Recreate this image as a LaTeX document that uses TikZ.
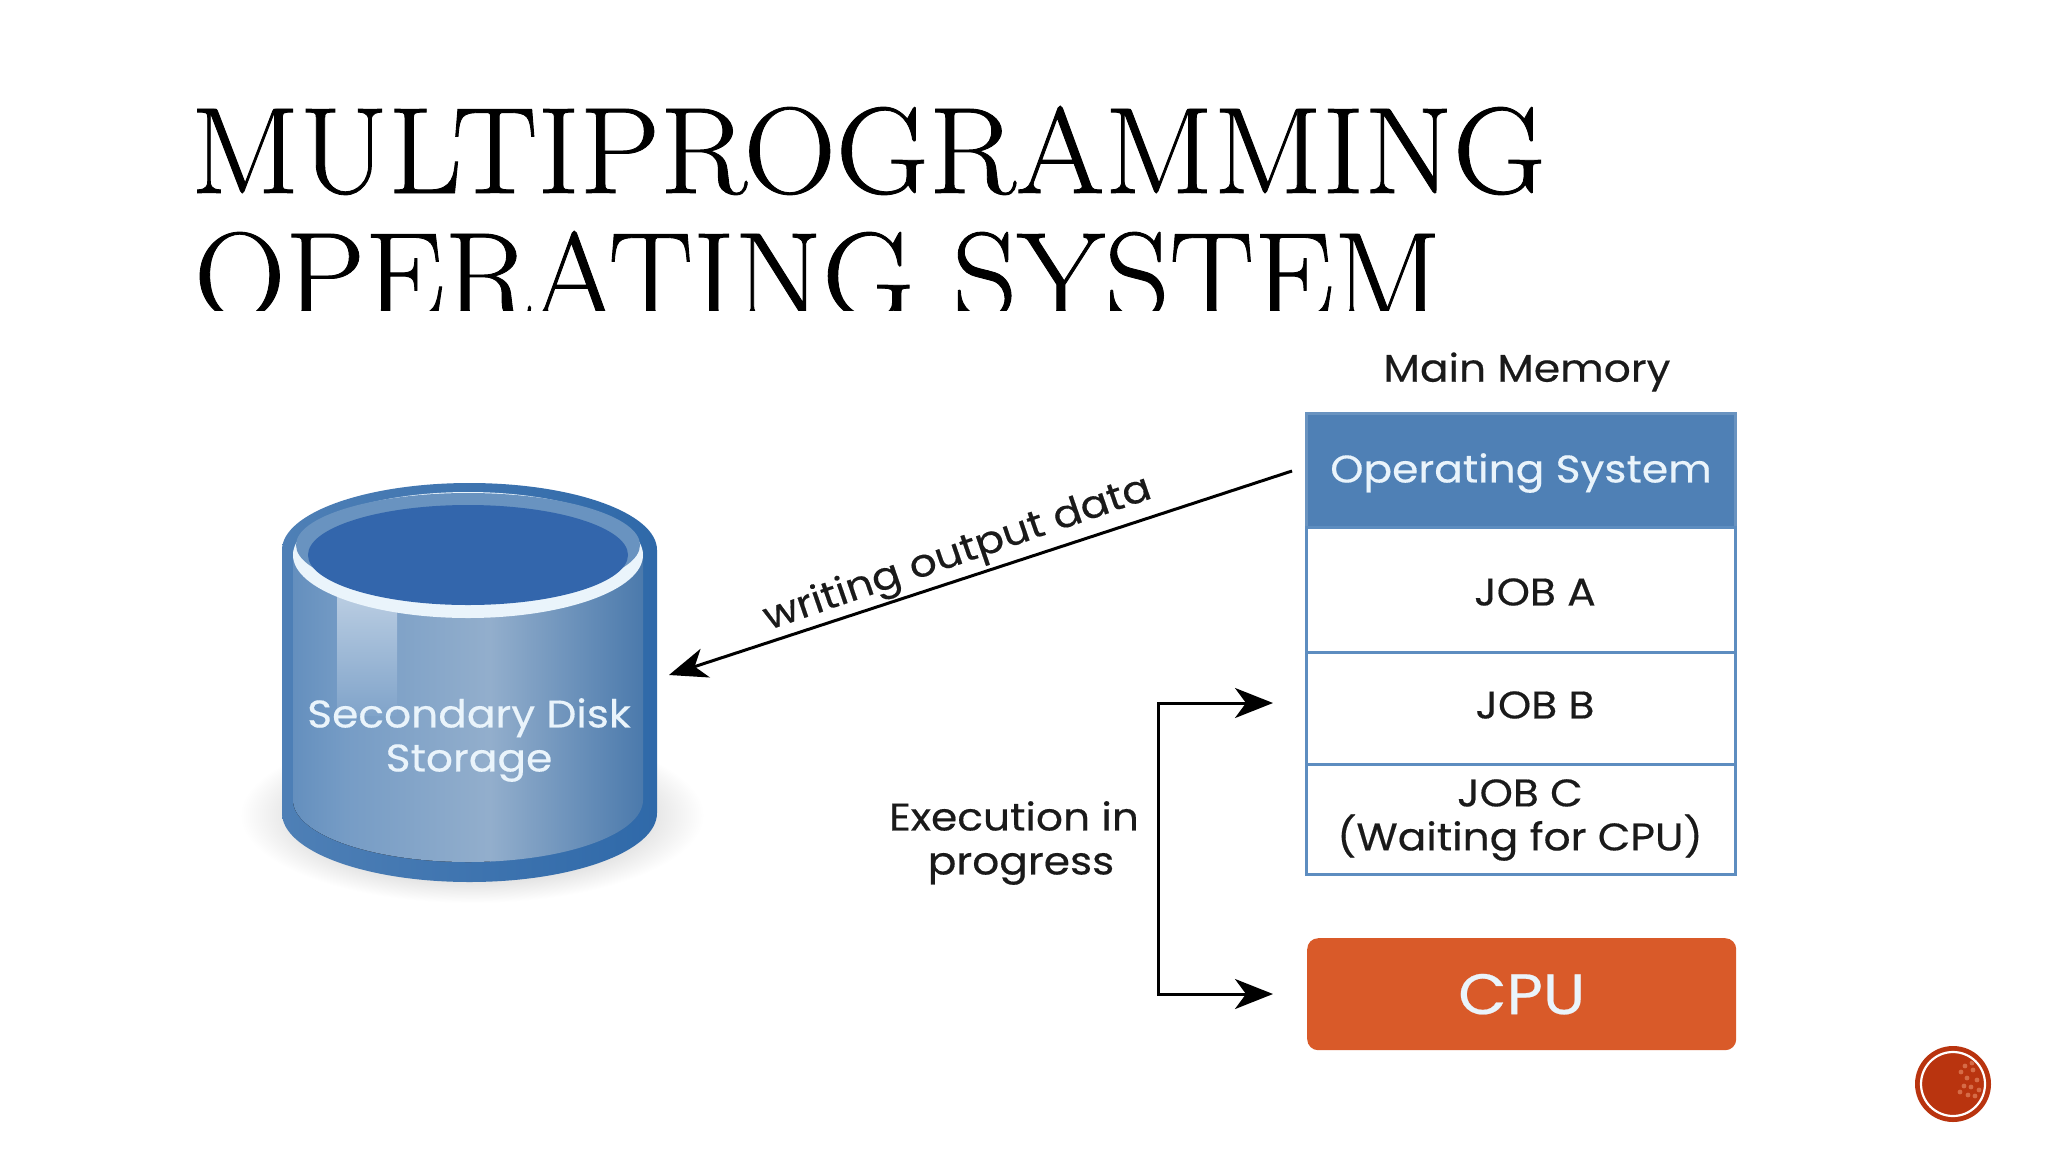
\documentclass[tikz,border=0pt]{standalone}
\usepackage{fontspec}
\usepackage{graphicx}
\usetikzlibrary{arrows.meta,calc}
\newfontfamily\labelfont[FakeStretch=1.1,FakeBold=0.4]{Poppins}
\newfontfamily\titlefont[FakeBold=0.7]{Latin Modern Roman}
\definecolor{osblue}{HTML}{4F80B5}
\definecolor{boxline}{HTML}{5D8DC0}
\definecolor{cpuorange}{HTML}{D95A29}
\definecolor{rimdark}{HTML}{2F69A9}
\definecolor{innerblue}{HTML}{3366AC}
\definecolor{badgered}{HTML}{B9340F}
\definecolor{inktext}{HTML}{1A1A1A}
\definecolor{palewhite}{HTML}{EAF4FB}
\tikzset{
  titletext/.style={inner sep=0pt,anchor=base west,text=black,font=\titlefont\fontsize{123}{123}\selectfont},
  membox/.style={draw=boxline,line width=2.6pt,fill=white,minimum width=429pt,inner sep=0pt,anchor=north west},
  lab/.style={inner sep=0pt,text=inktext,align=center,font=\labelfont\fontsize{38.5}{44}\selectfont},
  arrowline/.style={draw=black,line width=3pt,-{Stealth[length=38pt,width=30pt,inset=11pt]}},
}
\begin{document}
\begin{tikzpicture}[x=1pt,y=-1pt]
\useasboundingbox (0,0) rectangle (2048,1152);
\fill[white] (0,0) rectangle (2048,1152);

% title, cut off at its lower edge as in the reference
\begin{scope}
\clip (150,90) rectangle (1600,310);
\node[titletext] (t1) at (190.5,193) {\resizebox{1355pt}{\height}{MULTIPROGRAMMING}};
\node[titletext] (t2) at (194,318) {\resizebox{1247pt}{\height}{OPERATING SYSTEM}};
\end{scope}

% disk shadow
\shade[inner color=black!45,middle color=black!36,outer color=white] (472,815) ellipse [x radius=232,y radius=88];

% disk
\path[left color=rimdark!85!white,right color=rimdark] (282,550) -- (282,813)
  arc[start angle=180,end angle=0,x radius=187.5,y radius=69] -- (657,550)
  arc[start angle=0,end angle=-180,x radius=187.5,y radius=67] -- cycle;
\begin{scope}
\clip (293,550) -- (293,800) arc[start angle=180,end angle=0,x radius=175,y radius=62] -- (643,550) -- cycle;
\fill[left color=osblue!88!white,right color=osblue!78!white] (293,540) rectangle (345,880);
\fill[left color=osblue!78!white,right color=black!6!osblue!60!white] (345,540) rectangle (490,880);
\shade[left color=black!6!osblue!60!white,right color=osblue!95!black] (490,540) rectangle (643,880);
\shade[top color=white!62!osblue,bottom color=osblue!72!white] (337,590) rectangle (397,715);
\end{scope}
\fill[palewhite] (468,555) ellipse [x radius=175,y radius=63];
\fill[osblue!85!white] (468,545) ellipse [x radius=172,y radius=52];
\fill[innerblue] (468,555) ellipse [x radius=160,y radius=50];
\node[lab,text=palewhite] (disklabel) at (469,740) {Secondary Disk\\Storage};
\coordinate (disktip) at (669,675);

% memory column
\node[lab] (memtitle) at (1527,372) {Main Memory};
\node[membox,fill=osblue,draw=osblue!85!white,minimum height=114pt] (os) at (1305,412) {};
\node[membox,minimum height=125pt] (joba) at (1305,526) {};
\node[membox,minimum height=112pt] (jobb) at (1305,651) {};
\node[membox,minimum height=110pt] (jobc) at (1305,763) {};
\node[lab,text=palewhite] (ostext) at (1521,473) {Operating System};
\node[lab] (jobatext) at (1535,592) {JOB A};
\node[lab] (jobbtext) at (1535,705) {JOB B};
\node[lab] (jobctext) at (1520,820) {JOB C\\(Waiting for CPU)};

% cpu
\node[fill=cpuorange,rounded corners=11pt,minimum width=429pt,minimum height=112pt,inner sep=0pt,anchor=north west,
  text=palewhite,font=\labelfont\fontsize{57}{57}\selectfont] (cpu) at (1307,938) {CPU};

% connectors
\coordinate (writestart) at (1292,471);
\draw[arrowline] (writestart) -- (disktip);
\node[lab,rotate=19] (writelabel) at (958,555) {writing output data};

\coordinate (tojobb) at (1273,703);
\coordinate (tocpu) at (1273,994);
\coordinate (elbow) at (1158,850);
\draw[line width=3pt,draw=black,line cap=rect] (elbow |- tojobb) -- (elbow |- tocpu);
\draw[arrowline] (elbow |- tojobb) -- (tojobb);
\draw[arrowline] (elbow |- tocpu) -- (tocpu);
\node[lab] (execlabel) at (1014,843) {Execution in\\\hspace*{14pt}progress};

% badge
\node[circle,fill=badgered,minimum size=76pt,inner sep=0pt] (badge) at (1953,1084) {};
\draw[white,line width=2.2pt] (badge.center) circle (32pt);
\begin{scope}
\clip (badge.center) circle (30pt);
\foreach \dx/\dy in {8/-12,14/-6,20/-14,11/2,18/3,24/-4,15/11,22/12,7/8,26/6,12/-18,19/-21}
  \fill[cpuorange!75!white,opacity=.7] ($(badge.center)+(\dx,\dy)$) circle (2.4pt);
\end{scope}
\end{tikzpicture}
\end{document}
